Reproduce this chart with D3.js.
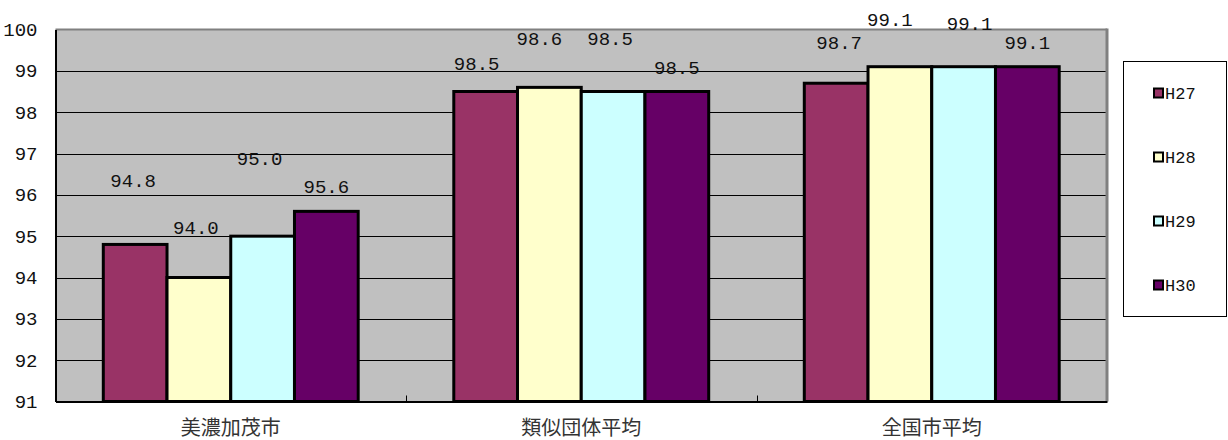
<!DOCTYPE html>
<html>
<head>
<meta charset="utf-8">
<script src="https://cdn.jsdelivr.net/npm/d3@7"></script>
<style>
  body { margin: 0; background: #fff; }
</style>
</head>
<body>
<div id="chart"></div>
<script>
// データ
const categories = ["美濃加茂市", "類似団体平均", "全国市平均"];
const series = ["H27", "H28", "H29", "H30"];
const values = [
    [94.8, 94.0, 95.0, 95.6],
    [98.5, 98.6, 98.5, 98.5],
    [98.7, 99.1, 99.1, 99.1]
];
const yTicks = [91, 92, 93, 94, 95, 96, 97, 98, 99, 100];

const colors = ["#993366", "#FFFFCC", "#CCFFFF", "#660066"];

const width = 1228;
const height = 440;
const plot = { left: 55.5, top: 29.5, right: 1107, bottom: 401.5 };
const numFont = '"Liberation Mono", "DejaVu Sans Mono", monospace';

// ラベルの手動配置 (Excel で個別に動かされている)
const labelShift = [
    [[-2, -64], [-3, -50], [-3, -78], [0, -25]],
    [[-9, -28], [-10, -49], [-3, -53], [0, -24]],
    [[3, -41], [-10, -47], [6, -43], [0, -24]]
];

let svg = d3.select("#chart").append("svg")
    .attr("width", width)
    .attr("height", height);

let x0 = d3.scaleBand()
    .domain(categories)
    .range([plot.left, plot.right]);

let barW = x0.bandwidth() / (series.length + 1.5);
let x1 = d3.scaleBand()
    .domain(series)
    .range([barW * 0.75, x0.bandwidth() - barW * 0.75]);

let y = d3.scaleLinear()
    .domain([91, 100])
    .range([plot.bottom, plot.top]);

// プロットエリア
svg.append("rect")
    .attr("x", plot.left)
    .attr("y", plot.top)
    .attr("width", plot.right - plot.left)
    .attr("height", plot.bottom - plot.top)
    .attr("fill", "#C0C0C0");

// 目盛線
svg.append("g")
    .selectAll("line")
    .data(yTicks.slice(1, -1))
    .enter()
    .append("line")
    .attr("x1", plot.left)
    .attr("x2", plot.right)
    .attr("y1", d => Math.round(y(d)) + 0.5)
    .attr("y2", d => Math.round(y(d)) + 0.5)
    .attr("stroke", "#000")
    .attr("stroke-width", 1);

// 上・右の枠
svg.append("line")
    .attr("x1", plot.left).attr("x2", plot.right)
    .attr("y1", plot.top).attr("y2", plot.top)
    .attr("stroke", "#808080").attr("stroke-width", 2);
svg.append("line")
    .attr("x1", plot.right).attr("x2", plot.right)
    .attr("y1", plot.top - 1).attr("y2", plot.bottom)
    .attr("stroke", "#808080").attr("stroke-width", 3);

// 棒
let groups = svg.append("g")
    .selectAll("g")
    .data(categories)
    .enter()
    .append("g")
    .attr("transform", d => `translate(${x0(d)},0)`);

groups.selectAll("rect")
    .data((d, i) => values[i].map((v, j) => ({ s: series[j], v: v, j: j })))
    .enter()
    .append("rect")
    .attr("x", d => x1(d.s))
    .attr("y", d => y(d.v))
    .attr("width", x1.bandwidth())
    .attr("height", d => y(91) - y(d.v))
    .attr("fill", d => colors[d.j])
    .attr("stroke", "#000")
    .attr("stroke-width", 3);

// データラベル
groups.each(function(c, i) {
    d3.select(this).selectAll("text")
        .data(values[i])
        .enter()
        .append("text")
        .attr("x", (v, j) => x1(series[j]) + x1.bandwidth() / 2 + labelShift[i][j][0])
        .attr("y", (v, j) => y(v) + labelShift[i][j][1])
        .attr("dy", "0.35em")
        .attr("text-anchor", "middle")
        .attr("font-family", numFont)
        .attr("font-size", 19)
        .attr("fill", "#111")
        .text(v => v.toFixed(1));
});

// 軸
let yAxis = svg.append("g")
    .attr("transform", `translate(${plot.left},0)`)
    .call(d3.axisLeft(y).tickValues(yTicks).tickSize(0).tickPadding(18))
    .attr("font-family", numFont)
    .attr("font-size", 19);
yAxis.select(".domain").attr("stroke", "#000").attr("stroke-width", 2);
yAxis.selectAll(".tick text").attr("fill", "#111");

let xAxis = svg.append("g")
    .attr("transform", `translate(0,${plot.bottom})`)
    .call(d3.axisBottom(x0).tickSize(0).tickPadding(19))
    .attr("font-family", "'Noto Sans CJK JP', sans-serif")
    .attr("font-size", 20);
xAxis.select(".domain").attr("stroke", "#000").attr("stroke-width", 2);
xAxis.selectAll(".tick text").attr("fill", "#333");

// 区切りの目盛 (内向き)
svg.append("g")
    .selectAll("line")
    .data(categories.slice(1))
    .enter()
    .append("line")
    .attr("x1", d => Math.round(x0(d)) + 0.5)
    .attr("x2", d => Math.round(x0(d)) + 0.5)
    .attr("y1", plot.bottom)
    .attr("y2", plot.bottom - 6)
    .attr("stroke", "#000");

// 凡例
let legend = svg.append("g");
legend.append("rect")
    .attr("x", 1123.5)
    .attr("y", 61.5)
    .attr("width", 103)
    .attr("height", 255)
    .attr("fill", "#fff")
    .attr("stroke", "#000");

let items = legend.selectAll("g")
    .data(series)
    .enter()
    .append("g")
    .attr("transform", (d, i) => `translate(1154,${93 + i * 64})`);

items.append("rect")
    .attr("x", 0)
    .attr("y", -4.5)
    .attr("width", 9)
    .attr("height", 9)
    .attr("fill", (d, i) => colors[i])
    .attr("stroke", "#000")
    .attr("stroke-width", 2);

items.append("text")
    .attr("x", 11)
    .attr("y", 0)
    .attr("dy", "0.35em")
    .attr("font-family", numFont)
    .attr("font-size", 17)
    .attr("fill", "#111")
    .text(d => d);
</script>
</body>
</html>
